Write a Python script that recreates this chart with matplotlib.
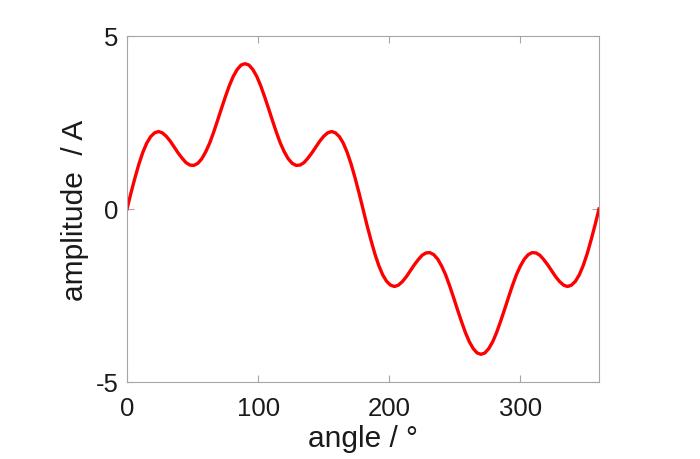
import matplotlib
matplotlib.use("Agg")
import matplotlib.pyplot as plt

# angle in degrees, every 3 deg from 0 to 360
angle = list(range(0, 363, 3))

# amplitude
amp_0_90 = [0.00, 0.46, 0.89, 1.29, 1.63, 1.90, 2.09, 2.20, 2.24, 2.20,
            2.10, 1.96, 1.79, 1.62, 1.47, 1.34, 1.27, 1.26, 1.32, 1.45,
            1.65, 1.90, 2.21, 2.55, 2.90, 3.24, 3.56, 3.83, 4.03, 4.16,
            4.20]
amp_93_180 = [4.16, 4.03, 3.83, 3.56, 3.24, 2.90, 2.55, 2.21, 1.90, 1.65,
              1.45, 1.32, 1.26, 1.27, 1.34, 1.47, 1.62, 1.79, 1.96, 2.10,
              2.20, 2.24, 2.20, 2.09, 1.90, 1.63, 1.29, 0.89, 0.46, 0.00]
amp_183_270 = [-0.46, -0.89, -1.29, -1.63, -1.90, -2.09, -2.20, -2.24, -2.20,
               -2.10, -1.96, -1.79, -1.62, -1.47, -1.34, -1.27, -1.26, -1.32,
               -1.45, -1.65, -1.90, -2.21, -2.55, -2.90, -3.24, -3.56, -3.83,
               -4.03, -4.16, -4.20]
amp_273_360 = [-4.16, -4.03, -3.83, -3.56, -3.24, -2.90, -2.55, -2.21, -1.90,
               -1.65, -1.45, -1.32, -1.26, -1.27, -1.34, -1.47, -1.62, -1.79,
               -1.96, -2.10, -2.20, -2.24, -2.20, -2.09, -1.90, -1.63, -1.29,
               -0.89, -0.46, 0.00]
amplitude = amp_0_90 + amp_93_180 + amp_183_270 + amp_273_360

xticks = [0, 100, 200, 300]
yticks = [-5, 0, 5]

plt.rcParams['font.family'] = ['Liberation Sans', 'DejaVu Sans']
plt.rcParams['axes.unicode_minus'] = False

fig = plt.figure(figsize=(7, 4.6), dpi=100)
ax = fig.add_axes([127 / 700, 1 - 383 / 460, 472 / 700, 346 / 460])

ax.plot(angle, amplitude, color='#ff0000', linewidth=2.4)

ax.set_xlim(0, 360)
ax.set_ylim(-5, 5)
ax.set_xticks(xticks)
ax.set_yticks(yticks)

for s in ax.spines.values():
    s.set_color('#a6a6a6')
    s.set_linewidth(0.8)

ax.tick_params(direction='in', length=5, width=0.8, color='#a6a6a6',
               top=True, right=True, labelsize=18.5, labelcolor='#1a1a1a')
ax.tick_params(axis='x', pad=10)
ax.tick_params(axis='y', pad=6)

ax.set_xlabel('angle / °', fontsize=21.5, color='#1a1a1a', labelpad=3)
ax.set_ylabel('amplitude  / A', fontsize=21.5, color='#1a1a1a', labelpad=5)

fig.savefig('out.png', dpi=100)
